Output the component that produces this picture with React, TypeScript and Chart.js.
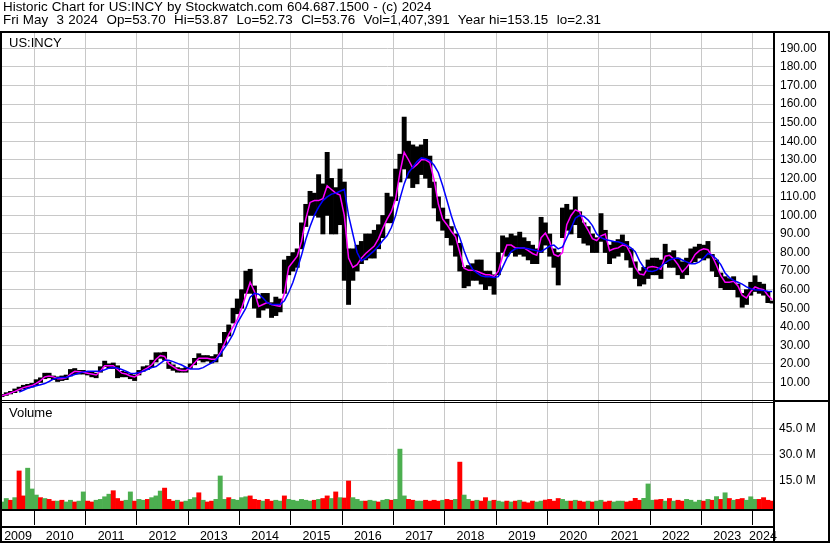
import React, { useEffect, useRef } from 'react';
import { Chart, registerables } from 'chart.js';

Chart.register(...registerables);

// ---- data (monthly, index 0 = May 2009, last = May 2024) ----
const FIRST_YEAR = 2009;
const FIRST_MONTH = 5; // May
const YEARS = ['2009', '2010', '2011', '2012', '2013', '2014', '2015', '2016', '2017', '2018', '2019', '2020', '2021', '2022', '2023', '2024'];

const PRICE_LOW = [
  2.3, 3, 3.8, 4.5, 5.5, 6.5, 7, 7.5, 8.5, 10,
  12, 12.5, 11.5, 10.5, 11, 11.5, 13.5, 14.5, 14.5, 14.5,
  14, 13, 12.5, 15.5, 18.5, 17.5, 17.5, 12.5, 13, 13,
  12, 11, 14, 16, 17, 18, 21, 23, 22, 17.5,
  16.5, 15.5, 15.5, 15.5, 17.5, 19.5, 22, 21, 21.5, 20.5,
  21, 24, 30, 35, 42, 47, 50, 58, 58, 50,
  45, 49, 50, 45, 46, 48, 58, 68, 70, 72,
  82, 94, 100, 100, 99, 90, 100, 90, 90, 95,
  65, 52, 65, 70, 74, 76, 77, 77, 82, 88,
  96, 96, 108, 118, 125, 120, 115, 117, 122, 120,
  115, 104, 97, 92, 88, 84, 78, 70, 61, 62,
  65, 65, 63, 60, 62, 57.5, 68, 80, 78, 80,
  78, 79, 78, 76, 74, 74, 80, 84, 78, 72,
  62.5, 88, 92, 90, 95, 88, 85, 84, 80, 80,
  86, 80, 74, 77, 78, 80, 76, 72, 66, 62,
  63, 66, 68, 68, 66, 74, 72, 72, 68, 66,
  68, 74, 75, 77, 76, 77, 70, 67, 61, 60,
  60, 60, 56, 50.5, 52, 57, 59, 58, 57, 53,
  52.73,
];

const PRICE_HIGH = [
  3.5, 4.5, 5.2, 6.5, 7.5, 8.5, 9, 9.5, 11.5, 12.5,
  15, 15, 13.5, 13, 13.5, 14, 17, 17.5, 16.5, 16.5,
  16, 15.5, 15, 18.5, 21.5, 20, 20.5, 19, 16, 15.5,
  14.5, 14, 16.5, 18.5, 19, 22, 26, 26, 26.3, 21,
  19.5, 18, 17.5, 18, 20, 23, 25.5, 24.5, 24.5, 24,
  25, 31, 37, 41, 50, 55, 60, 70, 71, 62,
  55, 58, 58, 53, 56, 55, 76, 78, 80, 82,
  96, 106, 113, 112, 122, 117, 134, 120, 115, 125,
  118, 82, 82, 84, 86, 90, 90, 92, 95, 100,
  112, 110, 125, 133, 153, 140, 138, 137, 138, 141,
  132, 118, 110, 104, 98, 94, 90, 85, 72, 73,
  74, 76, 76, 70, 70, 68, 80, 89, 88, 90,
  89, 91, 88, 86, 84, 82, 99, 96, 90, 82,
  80, 104, 106, 103, 110, 102, 96, 94, 90, 88,
  101, 92, 84, 86, 87, 89.5, 86, 82, 75, 70,
  72, 76, 77, 77, 76, 84.5, 80, 81, 77, 75,
  77, 82, 83, 84.5, 84, 86, 79, 76, 69, 67,
  66, 67, 63, 58, 60, 64, 67.5, 64, 63, 59,
  53.87,
];

const MA_SHORT = [
  2.8, 3.5, 4.3, 5.2, 6.2, 7.2, 7.8, 8.3, 9.5, 11,
  13, 13.5, 13, 12, 12, 12.5, 14.5, 16, 15.8, 15.5,
  15, 14.5, 14, 16, 19, 19, 19, 17, 15, 14.5,
  13.5, 13, 14.5, 16.5, 17.8, 19.5, 22.5, 24.5, 24, 20,
  18.5, 17, 16.5, 16.5, 18, 20.5, 23, 23, 23, 22.5,
  22.5, 26, 31, 36, 40, 44, 50, 57, 64, 59,
  51, 52, 53, 52, 51.5, 51, 58, 72, 75, 78,
  86, 98, 107, 108, 108, 109, 116, 114, 112, 111,
  100, 77, 72, 73.5, 77, 79.5, 81.5, 83.5, 87.5, 93,
  98, 102, 109, 123, 134, 130, 125.5, 127.5, 130, 130,
  128.5, 119, 106, 98, 95, 91.5, 88.5, 80, 71.5, 70.5,
  70.5, 70, 69, 68, 68, 67, 70, 78, 84, 84,
  82.5, 82.5, 82.5, 81, 79.5, 78.5, 88, 90.5, 86, 79,
  78, 80, 95, 100, 103, 102, 96, 92, 87.5, 86.5,
  89, 90, 81, 82, 82.5, 84, 83.5, 79, 72, 68.5,
  68, 72, 72.5, 72, 71, 78, 78.5, 76.5, 73.5, 69.5,
  72, 75, 79, 81, 82, 81.5, 78, 73, 67.5, 64,
  64, 64.5, 62, 57, 55.5, 59, 61.5, 60.5, 60, 57,
  54.5,
];

const MA_LONG = [
  null, null, null, null, 4.8, 5.8, 6.8, 7.5, 8.2, 8.8,
  9.4, 10.5, 11.8, 12.4, 12.6, 12.7, 13.5, 14.3, 15, 15.7,
  16, 16, 16, 16, 16.8, 17.7, 18, 17.8, 17, 16,
  15, 14.8, 15.3, 16, 17, 18, 18.6, 20.3, 22, 22,
  21.2, 20.3, 19.4, 18.2, 17.2, 17.2, 17.2, 18, 19.3, 20.5,
  22, 25, 28.5, 32, 36, 42, 46, 50, 56, 58,
  57.5, 55.5, 53, 52, 52, 52, 54, 58.5, 64, 71,
  78.5, 87, 94, 100, 104.5, 108, 110, 111.5, 112, 113,
  114, 100, 90, 80, 75.5, 77, 79, 81, 83.5, 86.5,
  89, 93.5, 100, 109, 117, 123, 126, 129, 131, 130.5,
  129.5, 127, 123, 116, 108, 100, 93, 88, 81, 75,
  71, 69, 67.5, 67, 67, 66.5, 67, 72, 77, 80.5,
  82, 82.5, 82.5, 82, 81.5, 81, 80.5, 82, 83.5, 84,
  82, 83, 88, 93, 98.5, 100, 99.5, 97.5, 94.5, 90,
  88, 87, 86.5, 86, 85.8, 85, 84, 82.5, 80.5, 75.5,
  72, 70, 69.8, 70.5, 72.5, 74.5, 76, 76.8, 77, 76,
  75, 74, 74, 75, 77, 79.5, 78.5, 76.5, 73.5, 69,
  66.5, 65, 64, 63, 61.5, 60.5, 60, 59.8, 59.5, 59.2,
  59,
];

// volume in millions of shares
const VOLUME = [
  2.5, 4.5, 3.5, 5, 20.4, 6, 22, 10, 6.5, 5,
  4.5, 4, 3, 3, 3.5, 2.5, 3.5, 2.5, 3, 8.3,
  3, 2.5, 3.5, 4, 5.5, 7, 9, 4.5, 3, 3.5,
  8.3, 3, 4, 3.5, 4, 5, 6, 8.8, 10.5, 4,
  3, 3.5, 2.5, 3, 4, 5, 7.8, 3.5, 2.5, 3,
  4, 17.5, 4, 5, 4, 3.5, 5, 5.5, 6, 4,
  3.5, 3, 4, 3, 3.5, 3, 6, 4, 3.5, 3,
  4, 3.5, 3, 3.5, 4, 4.5, 6, 4.5, 8.3, 5,
  4.8, 14.6, 5, 4, 3, 3, 3.5, 3, 2.5, 3.5,
  4, 3.5, 4, 33, 6, 4, 3.5, 3, 3, 3.5,
  3, 3.5, 3, 3.5, 4, 3.5, 4, 25.5, 6.5, 4,
  3, 3.5, 3, 5, 3, 3.5, 3, 2.5, 3, 2.5,
  3, 3.5, 2.5, 2, 3, 2.5, 3, 3.6, 4, 3,
  4.5, 4, 3, 3, 3.5, 3, 2.5, 3, 2.5, 3,
  3.5, 2.5, 3, 2.5, 3, 3, 2.5, 3, 4.6, 3.5,
  4.6, 12.9, 3.5, 3.7, 4, 3, 4.5, 3, 3.5, 3,
  4, 3.5, 2.5, 3.5, 3, 4, 3.5, 5.6, 4, 7.8,
  4.5, 3.5, 4, 4.5, 3.5, 5.5, 4, 4, 5, 3.5,
  3,
];

// u = up (green), d = down (red), one letter per month
const VOLUME_DIR = (
  'uududduuud' + 'udduduuduu' + 'dduuuudddu' + 'uduuduuudd' + 'duduuududd' +
  'uuuduuuudd' + 'dudduuduuu' + 'uuududdudu' + 'dduuuduudu' + 'uduuudduud' +
  'dddudduduu' + 'dudduduudu' + 'duddduuddd' + 'duududdudu' + 'udduuudddd' +
  'uuuddududd' + 'uuuudududu' + 'dudduuuddd' + 'd'
).split('');

const PRICE_TICKS = [10, 20, 30, 40, 50, 60, 70, 80, 90, 100, 110, 120, 130, 140, 150, 160, 170, 180, 190];
const VOLUME_TICKS = [15, 30, 45];

const HEADER_1 = 'Historic Chart for US:INCY by Stockwatch.com 604.687.1500 - (c) 2024';
const HEADER_2 = 'Fri May  3 2024  Op=53.70  Hi=53.87  Lo=52.73  Cl=53.76  Vol=1,407,391  Year hi=153.15  lo=2.31';
const SYMBOL = 'US:INCY';
const VOLUME_TITLE = 'Volume';

// ---- layout constants ----
const W = 830;
const H = 543;
const X_MIN = 0;
const X_MAX = 180.2;
const PRICE_MIN = 0;
const PRICE_MAX = 198.3;
const VOL_MIN = -1.56;
const VOL_MAX = 60.76;
const FONT = '"Liberation Sans", Arial, Helvetica, sans-serif';

const monthIndexOfJan = (y: number) => (y - FIRST_YEAR) * 12 - (FIRST_MONTH - 1);
const YEAR_BOUNDS = YEARS.slice(1).map((y) => monthIndexOfJan(Number(y)) - 0.5);
const YEAR_CENTERS = YEARS.map((y) => {
  const a = Math.max(X_MIN, monthIndexOfJan(Number(y)) - 0.5);
  const b = Math.min(X_MAX, monthIndexOfJan(Number(y) + 1) - 0.5);
  return (a + b) / 2;
});

const framePlugin = {
  id: 'frame',
  afterDraw(chart: any) {
    const ctx = chart.ctx;
    const { right, bottom } = chart.chartArea;
    const pBottom = Math.round(chart.scales.p.bottom);
    const x2Top = Math.round(chart.scales.x2.top);
    ctx.save();
    ctx.fillStyle = '#000';
    ctx.fillRect(0, 31, W, 2);
    ctx.fillRect(0, 31, 2, H - 31);
    ctx.fillRect(W - 2, 31, 2, H - 31);
    ctx.fillRect(0, H - 2, W, 2);
    ctx.fillRect(Math.round(right), 31, 2, H - 31);
    ctx.fillRect(0, pBottom - 1, right, 1);
    ctx.fillRect(0, pBottom + 1, right, 1);
    ctx.fillRect(right, pBottom - 1, W - right, 2);
    ctx.fillRect(0, Math.round(bottom), right, 2);
    ctx.fillRect(0, x2Top, right, 2);
    ctx.restore();
  },
};

export default function App() {
  const ref = useRef<HTMLCanvasElement | null>(null);

  useEffect(() => {
    if (!ref.current) return;
    const idx = PRICE_LOW.map((_, i) => i);
    const chart = new Chart(ref.current, {
      type: 'line',
      data: {
        datasets: [
          {
            type: 'bar',
            label: 'Price range',
            data: idx.map((i) => ({ x: i, y: [PRICE_LOW[i], PRICE_HIGH[i]] })),
            backgroundColor: '#000000',
            xAxisID: 'x',
            yAxisID: 'p',
            barPercentage: 1,
            categoryPercentage: 1,
            grouped: false,
            order: 3,
          } as any,
          {
            type: 'line',
            label: 'Short MA',
            data: idx.map((i) => ({ x: i, y: MA_SHORT[i] })),
            borderColor: '#ff00ff',
            borderWidth: 1.5,
            pointRadius: 0,
            xAxisID: 'x',
            yAxisID: 'p',
            order: 1,
          } as any,
          {
            type: 'line',
            label: 'Long MA',
            data: idx.map((i) => ({ x: i, y: MA_LONG[i] })),
            borderColor: '#0000ff',
            borderWidth: 1.5,
            pointRadius: 0,
            xAxisID: 'x',
            yAxisID: 'p',
            order: 0,
          } as any,
          {
            type: 'bar',
            label: 'Volume',
            data: idx.map((i) => ({ x: i, y: VOLUME[i] })),
            backgroundColor: idx.map((i) => (VOLUME_DIR[i] === 'u' ? '#4caf50' : '#ff0000')),
            base: VOL_MIN,
            xAxisID: 'x',
            yAxisID: 'v',
            barPercentage: 1,
            categoryPercentage: 1,
            grouped: false,
            order: 2,
          } as any,
        ],
      },
      options: {
        animation: false,
        responsive: false,
        maintainAspectRatio: false,
        layout: { padding: { top: 33, left: 2, right: 0, bottom: 0 } },
        plugins: { legend: { display: false }, tooltip: { enabled: false } },
        scales: {
          x: {
            type: 'linear',
            position: 'bottom',
            min: X_MIN,
            max: X_MAX,
            offset: false,
            weight: 0,
            afterBuildTicks: (s: any) => {
              s.ticks = YEAR_BOUNDS.map((v) => ({ value: v }));
            },
            ticks: { display: false, autoSkip: false },
            grid: { color: '#c8c8c8', tickColor: '#000000', tickLength: 16, drawTicks: true, offset: false, lineWidth: 1 },
            border: { display: false },
            afterFit: (s: any) => {
              s.height = 17;
            },
          },
          x2: {
            type: 'linear',
            position: 'bottom',
            min: X_MIN,
            max: X_MAX,
            offset: false,
            weight: 1,
            afterBuildTicks: (s: any) => {
              s.ticks = YEAR_CENTERS.map((v) => ({ value: v }));
            },
            ticks: {
              callback: (_v: any, i: number) => YEARS[i],
              autoSkip: false,
              maxRotation: 0,
              padding: 3,
              color: '#000000',
              font: { family: FONT, size: 12.5 },
            },
            grid: { display: false, drawTicks: false },
            border: { display: false },
            afterFit: (s: any) => {
              s.height = 17;
            },
          },
          p: {
            type: 'linear',
            position: 'right',
            stack: 'panels',
            stackWeight: 368,
            min: PRICE_MIN,
            max: PRICE_MAX,
            afterBuildTicks: (s: any) => {
              s.ticks = PRICE_TICKS.map((v) => ({ value: v }));
            },
            ticks: {
              callback: (v: any) => Number(v).toFixed(2),
              autoSkip: false,
              padding: 7,
              color: '#000000',
              font: { family: FONT, size: 12 },
            },
            grid: { color: '#c8c8c8', drawTicks: false, lineWidth: 1 },
            border: { display: false },
            afterFit: (s: any) => {
              s.width = 57;
            },
          },
          v: {
            type: 'linear',
            position: 'right',
            stack: 'panels',
            stackWeight: 108,
            min: VOL_MIN,
            max: VOL_MAX,
            afterBuildTicks: (s: any) => {
              s.ticks = VOLUME_TICKS.map((v) => ({ value: v }));
            },
            ticks: {
              callback: (v: any) => Number(v).toFixed(1) + ' M',
              autoSkip: false,
              padding: 6,
              color: '#000000',
              font: { family: FONT, size: 12 },
            },
            grid: { color: '#c8c8c8', drawTicks: false, lineWidth: 1 },
            border: { display: false },
            afterFit: (s: any) => {
              s.width = 57;
            },
          },
        },
      } as any,
      plugins: [framePlugin],
    });
    return () => chart.destroy();
  }, []);

  const textBase: React.CSSProperties = {
    position: 'absolute',
    font: `13px ${FONT}`,
    lineHeight: '13px',
    whiteSpace: 'pre',
    color: '#000',
    pointerEvents: 'none',
  };

  return (
    <div style={{ position: 'absolute', left: 0, top: 0, width: W, height: H, background: '#fff', overflow: 'hidden' }}>
      <canvas ref={ref} width={W} height={H} style={{ position: 'absolute', left: 0, top: 0, width: W, height: H }} />
      <div style={{ ...textBase, left: 3, top: 0, fontSize: '13.4px', wordSpacing: '0.5px' }}>
        <div>{HEADER_1}</div>
        <div>{HEADER_2}</div>
      </div>
      <div style={{ ...textBase, left: 9, top: 36 }}>{SYMBOL}</div>
      <div style={{ ...textBase, left: 9, top: 406 }}>{VOLUME_TITLE}</div>
    </div>
  );
}
